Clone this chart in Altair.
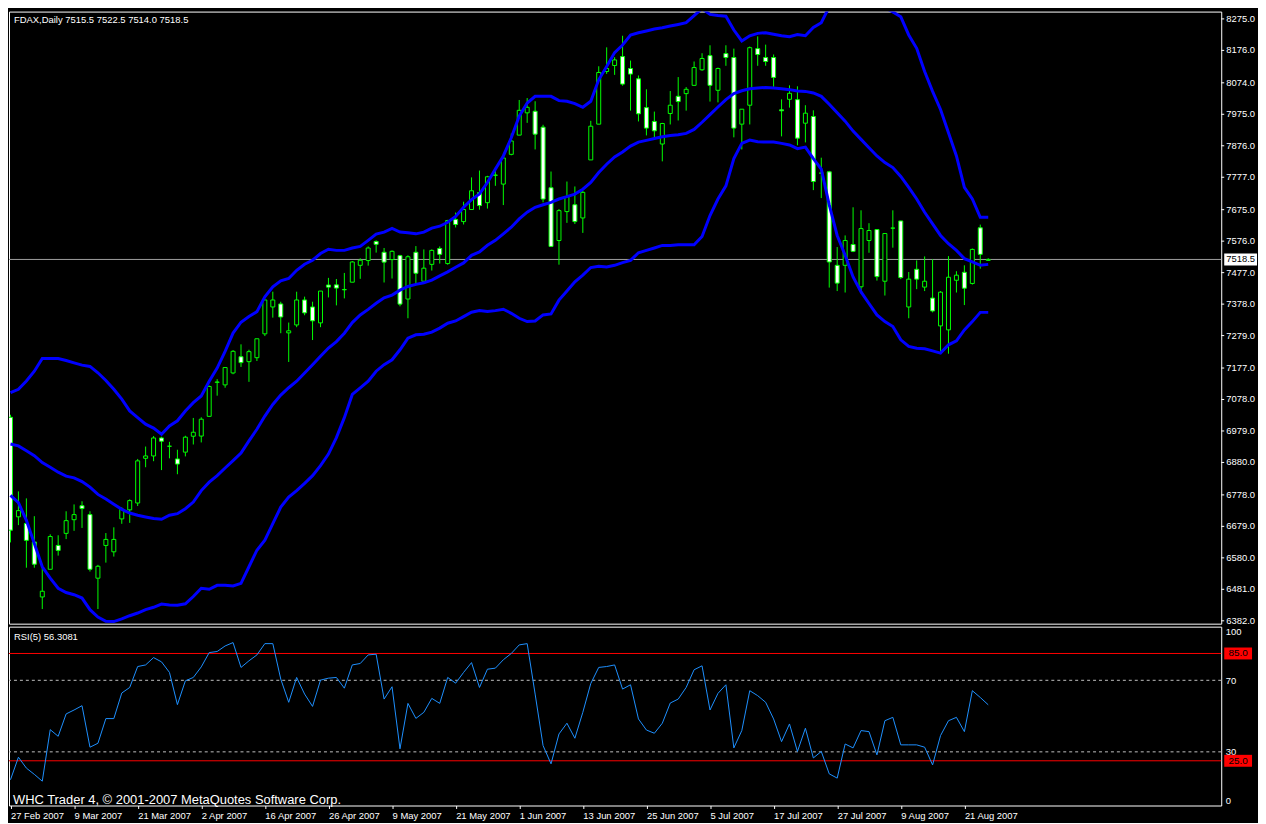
import altair as alt
import pandas as pd

# ---------------- data ----------------
date_labels = ["27 Feb 2007", "9 Mar 2007", "21 Mar 2007", "2 Apr 2007", "16 Apr 2007",
               "26 Apr 2007", "9 May 2007", "21 May 2007", "1 Jun 2007", "13 Jun 2007",
               "25 Jun 2007", "5 Jul 2007", "17 Jul 2007", "27 Jul 2007", "9 Aug 2007",
               "21 Aug 2007"]
date_label_bars = [0, 8, 16, 24, 32, 40, 48, 56, 64, 72, 80, 88, 96, 104, 112, 120]

open_ = [7022, 6709, 6688, 6630, 6457, 6544, 6619, 6657, 6700, 6744,
         6716, 6516, 6619, 6599, 6702.5, 6731, 6752.5, 6893, 6900.5, 6957,
         6931, 6891, 6912.5, 6962.5, 6963, 7025, 7132, 7124, 7161.5, 7212.5,
         7197, 7209.5, 7284.5, 7369, 7378.5, 7287.5, 7312.5, 7391, 7369, 7319,
         7438, 7438.5, 7423, 7447, 7500, 7515, 7575, 7541, 7518, 7530.5,
         7394, 7541, 7450, 7503, 7553, 7505.5, 7644, 7637.5, 7675.5, 7728.5,
         7697, 7783, 7755.5, 7849, 7909.5, 7979.5, 7984.5, 7934.5, 7744, 7578,
         7669, 7690.5, 7649, 7831.5, 7944, 8109.5, 8128.5, 8156.5, 8119, 8086.5,
         7996, 7952.5, 7881.5, 7977.5, 8031.5, 8040, 8066, 8115, 8159.5, 8050.5,
         8166, 8153.5, 7944, 8003.5, 8181.5, 8153.5, 8153.5, 7989, 8022, 8021,
         7947, 7968, 7790, 7794, 7500, 7500, 7565.5, 7432.5, 7578, 7612.5,
         7450, 7617, 7639.5, 7369, 7487.5, 7431.5, 7397, 7309.5, 7297, 7453,
         7478, 7443, 7618, 7515.5]
high = [7030, 6789, 6767, 6711, 6560, 6654, 6651, 6726.5, 6748, 6758,
        6726.5, 6558, 6658, 6676, 6739, 6764, 6891, 6930, 6963, 6961,
        6945, 6920, 6964, 7020, 7022, 7122, 7142, 7179, 7233.5, 7251.5,
        7234.5, 7269, 7392, 7417, 7385.5, 7320, 7417, 7401.5, 7385.5, 7419,
        7460.5, 7457, 7476, 7513.5, 7522, 7559.5, 7578.5, 7554.5, 7547, 7533,
        7531.5, 7560.5, 7550, 7550, 7559.5, 7643, 7666, 7700, 7776.5, 7798,
        7781.5, 7807.5, 7840, 7914.5, 8020, 8026, 8016, 7942, 7795, 7677,
        7763.5, 7748, 7734.5, 7954.5, 8126, 8185.5, 8154.5, 8222, 8144, 8097,
        8053.5, 7983.5, 7948, 8048, 8092, 8060.5, 8141, 8167, 8192, 8122,
        8192, 8181.5, 7991, 8188, 8220, 8194, 8163, 8022, 8066, 8063,
        8003.5, 7987.5, 7838.5, 7797, 7557.5, 7594, 7682.5, 7673, 7632.5, 7612.5,
        7600, 7673, 7640, 7479, 7515.5, 7528, 7519, 7419, 7529, 7481.5,
        7500, 7553, 7628, 7522.5]
low = [6628.5, 6683, 6549, 6549, 6419, 6544, 6587, 6639, 6665, 6674,
       6537, 6419, 6565, 6584, 6687, 6690, 6743, 6865, 6884, 6856,
       6893, 6843, 6899, 6936.5, 6943, 7025, 7090, 7115, 7157.5, 7180.5,
       7133.5, 7199, 7277.5, 7335.5, 7286.5, 7196, 7305.5, 7343, 7265, 7305.5,
       7399, 7374, 7396, 7447, 7457.5, 7499, 7540, 7446, 7458.5, 7371,
       7333.5, 7442, 7450, 7483.5, 7505.5, 7502, 7619, 7628.5, 7675, 7675,
       7678.5, 7750, 7689.5, 7846, 7909.5, 7948, 7864.5, 7698, 7557.5, 7502,
       7633.5, 7630, 7602, 7831.5, 7944, 8102, 8099, 8065, 7986.5, 7952.5,
       7908.5, 7901, 7827, 7943, 7955.5, 7986.5, 8066, 8111.5, 8015, 8012.5,
       8127.5, 7902.5, 7864.5, 7943, 8127.5, 8127.5, 8061.5, 7905.5, 7996, 7877.5,
       7886.5, 7736.5, 7711.5, 7430, 7419, 7414.5, 7541.5, 7411.5, 7539.5, 7452,
       7405, 7555.5, 7456.5, 7333.5, 7425, 7419, 7352, 7229, 7222, 7414.5,
       7375, 7439.5, 7489.5, 7514.0]
close = [6667, 6728.5, 6635, 6560, 6475, 6647, 6603.5, 6697, 6716, 6735,
         6544, 6553.5, 6638, 6638, 6733, 6760, 6885, 6900.5, 6957, 6947,
         6931, 6875, 6959.5, 6975, 7016, 7119, 7133, 7178.5, 7229.5, 7194,
         7228.5, 7269, 7391, 7391, 7337.5, 7294, 7391, 7350.5, 7325.5, 7419,
         7431.5, 7428.5, 7424, 7510.5, 7516, 7554.5, 7566, 7510, 7544, 7378,
         7527, 7475, 7491, 7547, 7534.5, 7641, 7628.5, 7675.5, 7734.5, 7688,
         7778.5, 7784, 7837.5, 7891, 7987.5, 7997, 7912.5, 7708.5, 7559.5, 7672,
         7716, 7637.5, 7729.5, 7937.5, 8106.5, 8119, 8146, 8070, 8101.5, 7976.5,
         7931.5, 7923, 7946, 8003.5, 8015, 8053.5, 8122, 8150.5, 8066, 8119,
         8153.5, 7931.5, 7991, 8184.5, 8163, 8141, 8091, 7986, 8041, 7900,
         7978.5, 7763.5, 7790, 7510.5, 7444, 7578, 7544, 7615.5, 7609.5, 7464.5,
         7600, 7617, 7461.5, 7456.5, 7456.5, 7450, 7356.5, 7415.5, 7462.5, 7469,
         7428, 7550, 7534.5, 7518.5]

bb_upper = [7099.5, 7110, 7136, 7167, 7207, 7207, 7207, 7200.5, 7193, 7186,
            7182, 7162, 7138, 7110, 7079, 7042, 7021, 7000.5, 6988, 6969,
            6995, 7011, 7042, 7068, 7089, 7135.5, 7177, 7229.5, 7287, 7321,
            7339, 7354.5, 7401, 7432.5, 7451.5, 7458.5, 7484.5, 7503.5, 7516, 7537,
            7550.5, 7547, 7547, 7554.5, 7559.5, 7578.5, 7598, 7604.5, 7616, 7604.5,
            7602.5, 7599, 7604.5, 7617, 7623, 7635.5, 7653.5, 7682.5, 7706.5, 7724.5,
            7760.5, 7802.5, 7844, 7901, 7969, 8010.5, 8031.5, 8031.5, 8031.5, 8018,
            8016, 8008.5, 7997, 8016, 8083.5, 8125.5, 8169, 8193, 8224.5, 8231.5,
            8237, 8243, 8247, 8252.5, 8257.5, 8263, 8285.5, 8307.5, 8289, 8285.5,
            8283.5, 8240, 8205.5, 8222, 8229.5, 8231.5, 8226.5, 8222, 8219, 8225.5,
            8222, 8248, 8263, 8313, 8345, 8370, 8385, 8385, 8365, 8335,
            8310.5, 8297, 8281.5, 8224.5, 8182.5, 8109.5, 8047, 7990, 7917, 7844,
            7745, 7708.5, 7651, 7651]
bb_mid = [6938, 6932, 6917, 6901.5, 6879.5, 6865, 6849.5, 6837, 6831.5, 6820,
          6802.5, 6779.5, 6765, 6748.5, 6732.5, 6721, 6714, 6708.5, 6703.5, 6701.5,
          6714, 6719, 6734.5, 6755.5, 6791.5, 6818, 6838.5, 6862.5, 6885.5, 6909.5,
          6948, 6984.5, 7026, 7062.5, 7092, 7115, 7135.5, 7161.5, 7187.5, 7214,
          7240, 7260, 7286.5, 7320, 7344, 7361.5, 7380.5, 7398, 7406.5, 7422,
          7433.5, 7440, 7445, 7453.5, 7467, 7479.5, 7494, 7507.5, 7531.5, 7542,
          7563, 7578.5, 7599, 7620, 7646, 7667, 7682.5, 7690.5, 7698, 7708.5,
          7716, 7724, 7739.5, 7760.5, 7792, 7818, 7841, 7856.5, 7875, 7887.5,
          7893, 7899, 7904.5, 7908.5, 7910.5, 7915, 7927.5, 7950, 7974, 7998,
          8021, 8040, 8049, 8055.5, 8057.5, 8059.5, 8057.5, 8055.5, 8052.5, 8048,
          8047, 8042, 8031.5, 8006.5, 7979.5, 7953.5, 7922, 7896, 7870, 7844,
          7823, 7807.5, 7779.5, 7745, 7708.5, 7667, 7630.5, 7594, 7568, 7547,
          7521, 7510.5, 7500, 7503]
bb_lower = [6776.5, 6753.5, 6698, 6625, 6552, 6516, 6484.5, 6471, 6464, 6453.5,
            6417, 6394, 6380.5, 6379.5, 6388, 6398, 6406.5, 6417, 6424.5, 6434.5,
            6431.5, 6431, 6435.5, 6458.5, 6484.5, 6481, 6493.5, 6493.5, 6491.5, 6500,
            6552, 6604, 6635.5, 6687.5, 6739.5, 6771, 6791.5, 6814.5, 6838.5, 6870,
            6906.5, 6958, 7021, 7094, 7114.5, 7135.5, 7167, 7187.5, 7203, 7234.5,
            7271, 7281.5, 7283.5, 7290, 7302.5, 7318, 7325, 7338.5, 7352.5, 7357.5,
            7354.5, 7357.5, 7362, 7349, 7333.5, 7323, 7325, 7344, 7347, 7390.5,
            7419, 7448, 7469, 7493, 7497, 7495, 7500, 7508.5, 7515.5, 7539.5,
            7547, 7554.5, 7562.5, 7562.5, 7564.5, 7564.5, 7564.5, 7590.5, 7656.5, 7708.5,
            7750, 7835.5, 7883.5, 7894, 7888.5, 7887.5, 7887.5, 7883.5, 7878.5, 7867,
            7872, 7835.5, 7802.5, 7690, 7594, 7531.5, 7463.5, 7416.5, 7380, 7344,
            7323, 7307.5, 7265.5, 7245, 7239.5, 7237.5, 7231, 7224, 7250, 7262.5,
            7297, 7323, 7352, 7352]

rsi = [14.4, 27, 20.9, 17.4, 13.6, 42.4, 38.7, 51.2, 53.4, 55.8,
       32.6, 34.8, 48.6, 48.6, 62.9, 66, 77.7, 78.6, 82.7, 80.3,
       74.4, 56.4, 69.7, 71.6, 77.5, 85.5, 86.1, 89.2, 91.1, 77.2,
       80.9, 84.2, 90.5, 90.5, 70.7, 57.7, 71.6, 62.3, 55.4, 70.1,
       71.2, 71.6, 65.6, 78.6, 79.4, 84.2, 84.6, 59.5, 66.4, 31.7,
       57.1, 48.7, 52.1, 59.9, 57.1, 71.6, 68.4, 74.4, 79.9, 66,
       76.2, 76.8, 81.5, 85, 89.8, 90.5, 62.3, 33.5, 23.3, 40,
       46, 37.6, 52.1, 68.2, 77.2, 77.7, 78.6, 65.1, 67.5, 48.4,
       42.2, 40.4, 46, 57.3, 59.5, 66, 75.9, 78.1, 53.4, 62.7,
       67.5, 32.2, 41.9, 64.2, 61.4, 57.7, 48.4, 35.7, 45.6, 30.2,
       43.2, 26.6, 30.2, 17.7, 15.3, 34.4, 32.2, 41.9, 41.3, 28.3,
       47.4, 49.3, 33.9, 33.9, 33.9, 32.6, 22.7, 39.1, 47.4, 49.3,
       41.3, 64.2, 60.4, 56.3]

price_ticks = [8275.0, 8176.0, 8074.0, 7975.0, 7876.0, 7777.0, 7675.0, 7576.0, 7477.0,
               7378.0, 7279.0, 7177.0, 7078.0, 6979.0, 6880.0, 6778.0, 6679.0, 6580.0,
               6481.0, 6382.0]
rsi_ticks = [0, 30, 70, 100]
rsi_red_levels = [85.0, 25.0]
rsi_dash_levels = [70.0, 30.0]
last_price = 7518.5
symbol_text = "FDAX,Daily"
rsi_title = "RSI(5) 56.3081"
copyright_text = "WHC Trader 4, \u00a9 2001-2007 MetaQuotes Software Corp."

# ---------------- tables ----------------
n = len(close)
bars = pd.DataFrame({"bar": list(range(n)), "open": open_, "high": high,
                     "low": low, "close": close})
bars["body_lo"] = bars[["open", "close"]].min(axis=1)
bars["body_hi"] = bars[["open", "close"]].max(axis=1)
bars["dir"] = ["up" if c >= o else "down" for o, c in zip(open_, close)]

bands = pd.concat([
    pd.DataFrame({"bar": list(range(n)), "band": name, "value": vals})
    for name, vals in [("upper", bb_upper), ("middle", bb_mid), ("lower", bb_lower)]
])
rsi_df = pd.DataFrame({"bar": list(range(n)), "rsi": rsi})
ticks_df = pd.DataFrame({"price": price_ticks, "label": [f"{v:.1f}" for v in price_ticks]})
price_df = pd.DataFrame({"price": [last_price], "label": [f"{last_price:.1f}"]})
red_df = pd.DataFrame({"level": rsi_red_levels, "label": [f"{v:.1f}" for v in rsi_red_levels]})
dash_df = pd.DataFrame({"level": rsi_dash_levels})
header = f"{symbol_text}  {open_[-1]:.1f} {high[-1]:.1f} {low[-1]:.1f} {close[-1]:.1f}"
header_df = pd.DataFrame({"t": [header]})
rsi_title_df = pd.DataFrame({"t": [rsi_title]})
copy_df = pd.DataFrame({"t": [copyright_text]})

# ---------------- styling ----------------
FONT = "Liberation Sans"
GREEN = "#00FF00"
BLUE = "#0000FF"
WHITE = "#FFFFFF"
W = 1220
H_MAIN = 616
H_RSI = 180

x_scale = alt.Scale(domain=[-0.1875, 152.3125], nice=False, zero=False, padding=0)
y_scale = alt.Scale(domain=[6373, 8298], nice=False, zero=False, padding=0)
r_scale = alt.Scale(domain=[0, 100], nice=False, zero=False, padding=0)
X = alt.X("bar:Q", scale=x_scale, axis=None)


def PY(field):
    return alt.Y(field, scale=y_scale, axis=None, title=None)


# ---------------- main price panel ----------------
price_rule = alt.Chart(price_df).mark_rule(color="#A0A0A0", strokeWidth=1).encode(
    y=PY("price:Q"))
wicks = alt.Chart(bars).mark_rule(color=GREEN, strokeWidth=1, clip=True).encode(
    x=X, y=PY("low:Q"), y2="high:Q")
bodies = alt.Chart(bars).mark_bar(width=4, stroke=GREEN, strokeWidth=1, clip=True).encode(
    x=X, y=PY("body_lo:Q"), y2="body_hi:Q",
    fill=alt.Fill("dir:N", scale=alt.Scale(domain=["up", "down"], range=["#000000", WHITE]),
                  legend=None))
band_lines = alt.Chart(bands).mark_line(color=BLUE, strokeWidth=3, clip=True).encode(
    x=X, y=PY("value:Q"), detail="band:N")

# right price scale (tick marks + labels)
tick_marks = alt.Chart(ticks_df).mark_rule(color=WHITE, strokeWidth=1).encode(
    x=alt.value(W), x2=alt.value(W + 3), y=PY("price:Q"))
tick_labels = alt.Chart(ticks_df).mark_text(color=WHITE, font=FONT, fontSize=9.5,
                                            align="left", baseline="middle").encode(
    x=alt.value(W + 5), y=PY("price:Q"), text="label:N")

price_box = alt.Chart(price_df).mark_rect(color=WHITE, yOffset=-6, y2Offset=6).encode(
    x=alt.value(W + 3), x2=alt.value(W + 36), y=PY("price:Q"), y2="price:Q")
price_text = alt.Chart(price_df).mark_text(color="#000000", font=FONT, fontSize=9.5,
                                           align="center", baseline="middle").encode(
    x=alt.value(W + 19.5), y=PY("price:Q"), text="label:N")
header_text = alt.Chart(header_df).mark_text(color=WHITE, font=FONT, fontSize=9.5,
                                             align="left", baseline="alphabetic").encode(
    x=alt.value(5), y=alt.value(11), text="t:N")

main = alt.layer(price_rule, wicks, bodies, band_lines, tick_marks, tick_labels,
                 price_box, price_text, header_text).properties(width=W, height=H_MAIN)

# ---------------- RSI panel ----------------
label_js = "[" + ",".join(f"'{d}'" for d in date_labels) + "]"
idx_js = "[" + ",".join(str(b) for b in date_label_bars) + "]"
date_axis = alt.Axis(values=date_label_bars,
                     labelExpr=f"{label_js}[indexof({idx_js}, datum.value)]",
                     labelAlign="left", labelBaseline="top", labelPadding=2, tickSize=3,
                     labelFlush=False, labelOverlap=False)
rsi_axis = alt.Axis(orient="right", values=rsi_ticks, format="d", ticks=False,
                    labelPadding=4, labelFlush=True, labelOverlap=False)

dash_rules = alt.Chart(dash_df).mark_rule(color="#C0C0C0", strokeWidth=1,
                                          strokeDash=[3, 3]).encode(
    y=alt.Y("level:Q", scale=r_scale, axis=rsi_axis, title=None))
red_rules = alt.Chart(red_df).mark_rule(color="#FF0000", strokeWidth=1).encode(
    y=alt.Y("level:Q", scale=r_scale, title=None))
rsi_line = alt.Chart(rsi_df).mark_line(color="#1E90FF", strokeWidth=1, clip=True).encode(
    x=alt.X("bar:Q", scale=x_scale, axis=date_axis, title=None),
    y=alt.Y("rsi:Q", scale=r_scale, title=None))
red_boxes = alt.Chart(red_df).mark_rect(color="#FF0000", yOffset=-6, y2Offset=6).encode(
    x=alt.value(W + 3), x2=alt.value(W + 31),
    y=alt.Y("level:Q", scale=r_scale, title=None), y2="level:Q")
red_text = alt.Chart(red_df).mark_text(color="#000000", font=FONT, fontSize=10,
                                       align="center", baseline="middle").encode(
    x=alt.value(W + 17), y=alt.Y("level:Q", scale=r_scale, title=None), text="label:N")
rsi_title_text = alt.Chart(rsi_title_df).mark_text(color=WHITE, font=FONT, fontSize=9.5,
                                                   align="left", baseline="alphabetic").encode(
    x=alt.value(5), y=alt.value(13), text="t:N")
copy_text = alt.Chart(copy_df).mark_text(color=WHITE, font=FONT, fontSize=13,
                                         align="left", baseline="alphabetic").encode(
    x=alt.value(4), y=alt.value(H_RSI - 2), text="t:N")

rsi_chart = alt.layer(dash_rules, red_rules, rsi_line, red_boxes, red_text,
                      rsi_title_text, copy_text).properties(width=W, height=H_RSI)

chart = alt.vconcat(main, rsi_chart, spacing=3, bounds="flush").properties(
    padding={"left": 0, "top": 0, "right": 0, "bottom": 0},
    background="#000000",
).configure_view(
    stroke=WHITE, strokeWidth=1
).configure_axis(
    grid=False, domain=False, labelColor=WHITE, tickColor=WHITE,
    labelFont=FONT, labelFontSize=9.5, labelOverlap=False
).configure_scale(
    continuousPadding=0
)

chart.save("out.html", embed_options={"renderer": "svg", "actions": False})
